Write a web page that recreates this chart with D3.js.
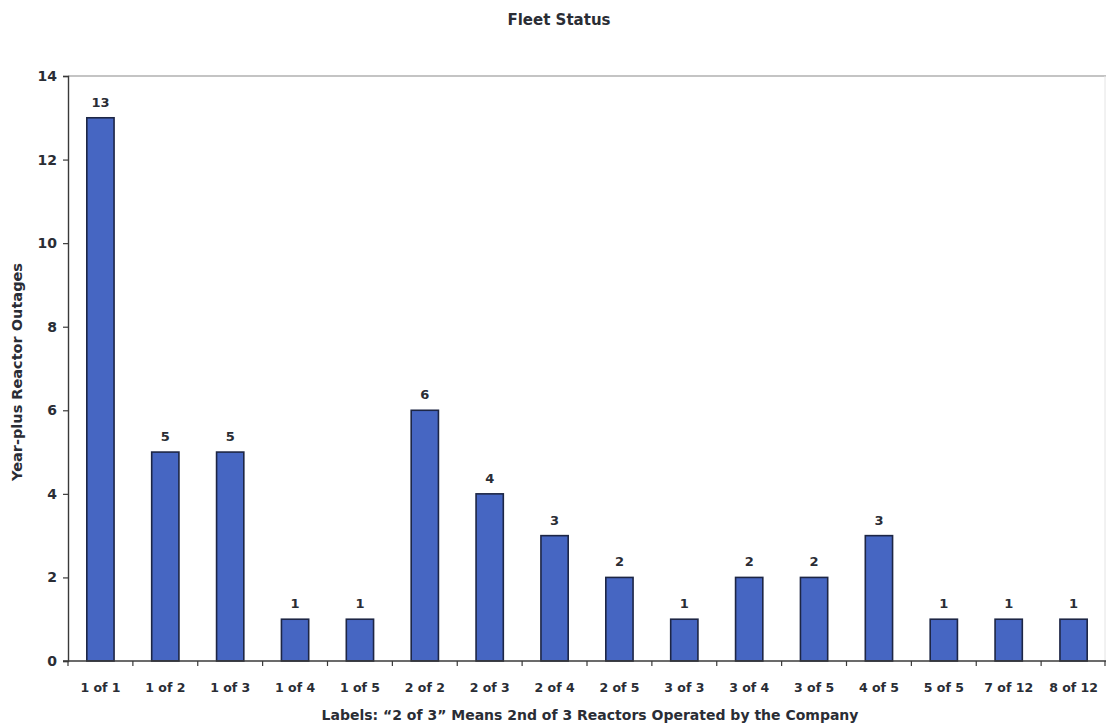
<!DOCTYPE html>
<html>
<head>
<meta charset="utf-8">
<script src="https://cdn.jsdelivr.net/npm/d3@7"></script>
<style>
  html, body { margin: 0; padding: 0; background: #fff; }
  svg text { font-family: "DejaVu Sans", "Liberation Sans", Arial, sans-serif; font-weight: bold; fill: #2a2d35; }
</style>
</head>
<body>
<svg id="chart" width="1106" height="725"></svg>
<script>
// Reactor position within each operating company, e.g. "2 of 3"
const categories = ["1 of 1", "1 of 2", "1 of 3", "1 of 4", "1 of 5", "2 of 2", "2 of 3", "2 of 4",
  "2 of 5", "3 of 3", "3 of 4", "3 of 5", "4 of 5", "5 of 5", "7 of 12", "8 of 12"];
// Number of year-plus reactor outages
const outages = [13, 5, 5, 1, 1, 6, 4, 3, 2, 1, 2, 2, 3, 1, 1, 1];
const yTicks = [0, 2, 4, 6, 8, 10, 12, 14];

const svg = d3.select("#chart");
const W = 1106, H = 725;
const plotL = 68, plotR = 1106, plotT = 76, plotB = 661;

const x = d3.scaleBand().domain(categories).range([plotL, plotR]).paddingInner(0.58).paddingOuter(0.29);
const xTicks = d3.scaleBand().domain(categories).range([plotL, plotR]);
const y = d3.scaleLinear().domain([0, 14]).range([plotB, plotT]);

// Title
svg.append("text").attr("x", 559).attr("y", 25).attr("text-anchor", "middle")
  .style("font-size", "15px").text("Fleet Status");

// Plot frame top/right
svg.append("line").attr("x1", plotL).attr("x2", plotR).attr("y1", plotT).attr("y2", plotT)
  .attr("stroke", "#8a8a8a").attr("stroke-width", 1.2);
svg.append("line").attr("x1", plotR - 1).attr("x2", plotR - 1).attr("y1", plotT).attr("y2", plotB)
  .attr("stroke", "#e4e4e4").attr("stroke-width", 1);

// Bars
svg.append("g").selectAll("rect").data(outages).join("rect")
  .attr("x", (d, i) => x(categories[i]))
  .attr("y", d => y(d))
  .attr("width", x.bandwidth())
  .attr("height", d => y(0) - y(d))
  .attr("fill", "#4666c2")
  .attr("stroke", "#1d2645")
  .attr("stroke-width", 1.6);

// Value labels
svg.append("g").selectAll("text").data(outages).join("text")
  .attr("x", (d, i) => x(categories[i]) + x.bandwidth() / 2)
  .attr("y", d => y(d) - 11)
  .attr("text-anchor", "middle")
  .style("font-size", "13px")
  .text(d => d);

// Y axis
const yAxis = svg.append("g").attr("transform", `translate(${plotL},0)`)
  .call(d3.axisLeft(y).tickValues(yTicks).tickSize(5).tickPadding(6));
yAxis.select(".domain").attr("stroke", "#3a3a3a").attr("stroke-width", 1.4);
yAxis.selectAll(".tick line").attr("stroke", "#3a3a3a").attr("stroke-width", 1.2);
yAxis.selectAll(".tick text").style("font-size", "14px").attr("fill", "#2a2d35");

// X axis with ticks between categories
const xAxisG = svg.append("g").attr("transform", `translate(0,${plotB})`);
xAxisG.append("line").attr("x1", plotL - 5).attr("x2", plotR).attr("stroke", "#3a3a3a").attr("stroke-width", 1.4);
const bounds = categories.map(c => xTicks(c)).concat([plotR - 1]);
xAxisG.selectAll(".xt").data(bounds).join("line").attr("class", "xt")
  .attr("x1", d => d).attr("x2", d => d).attr("y1", 0).attr("y2", 5)
  .attr("stroke", "#3a3a3a").attr("stroke-width", 1.2);
xAxisG.selectAll(".xl").data(categories).join("text").attr("class", "xl")
  .attr("x", d => xTicks(d) + xTicks.bandwidth() / 2)
  .attr("y", 31)
  .attr("text-anchor", "middle")
  .style("font-size", "12.5px")
  .text(d => d);

// Axis titles
svg.append("text").attr("x", 590).attr("y", 720).attr("text-anchor", "middle")
  .style("font-size", "14px").text("Labels: \u201c2 of 3\u201d Means 2nd of 3 Reactors Operated by the Company");
svg.append("text").attr("transform", "translate(22,372) rotate(-90)").attr("text-anchor", "middle")
  .style("font-size", "14.5px").text("Year-plus Reactor Outages");
</script>
</body>
</html>
